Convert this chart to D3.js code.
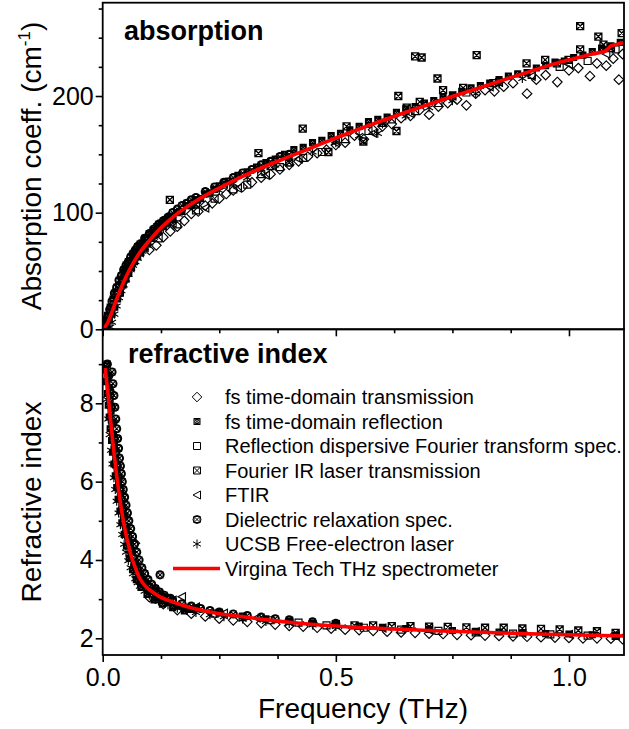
<!DOCTYPE html>
<html><head><meta charset="utf-8">
<script src="https://cdn.jsdelivr.net/npm/d3@7"></script>
<style>body{margin:0;background:#fff}svg{display:block}text{font-family:"Liberation Sans",Arial,sans-serif;fill:#000}</style>
</head><body><svg id="c" width="629" height="729"></svg>
<script>
// ---------- DATA ----------
const seriesNames = ["fs time-domain transmission","fs time-domain reflection","Reflection dispersive Fourier transform spec.","Fourier IR laser transmission","FTIR","Dielectric relaxation spec.","UCSB Free-electron laser"];
const lineName = "Virgina Tech THz spectrometer";
const xTicks = [0, 0.5, 1.0];
const alphaTicks = [0, 100, 200];
const nTicks = [2, 4, 6, 8];

// Virginia Tech curve
const vtFreqA = [0,0.01,0.02,0.03,0.04,0.05,0.06,0.08,0.1,0.125,0.15,0.2,0.25,0.3,0.35,0.4,0.45,0.5,0.6,0.7,0.8,0.9,1.0,1.05,1.08,1.09,1.1,1.118];
const vtAlpha  = [0,5,15,26,36,45,53,66,76,87,96,110,121,131,140,148,156,164,179,193,206,219,231,236,239,243,244,246];
const vtFreqN = [0.005,0.01,0.015,0.02,0.025,0.03,0.035,0.04,0.045,0.05,0.055,0.06,0.07,0.08,0.09,0.1,0.123,0.15,0.18,0.244,0.3,0.352,0.4,0.466,0.6,0.7,0.8,0.9,1.0,1.118];
const vtN     = [8.9,8.4,7.8,7.2,6.65,6.15,5.7,5.3,4.95,4.65,4.4,4.15,3.8,3.52,3.35,3.24,3.06,2.93,2.81,2.64,2.55,2.47,2.41,2.34,2.25,2.2,2.16,2.12,2.09,2.06];

// absorption data [freq, alpha]
const tdsTransAlpha = [[0.10,68],[0.115,72],[0.13,79],[0.145,84],[0.16,88],[0.175,93],[0.19,99],[0.205,101],[0.22,106],[0.235,108],[0.25,112],[0.265,116],[0.28,119],[0.30,122],[0.32,126],[0.34,130],[0.36,133],[0.38,137],[0.40,141],[0.42,144],[0.44,148],[0.46,151],[0.48,154],[0.50,158],[0.52,160],[0.54,166],[0.56,163],[0.58,171],[0.60,174],[0.62,176],[0.64,181],[0.66,183],[0.68,188],[0.70,184],[0.72,191],[0.74,194],[0.76,197],[0.78,192],[0.80,202],[0.82,205],[0.84,204],[0.86,208],[0.88,211],[0.91,202],[0.93,214],[0.95,218],[0.975,212],[1.00,222],[1.02,224],[1.045,217],[1.06,228],[1.08,226],[1.095,232],[1.107,214],[1.115,236]];
const tdsReflAlpha = [[0.004,6],[0.008,4],[0.01,12],[0.014,8],[0.016,19],[0.02,13],[0.022,26],[0.026,19],[0.028,32],[0.032,26],[0.034,38],[0.038,31],[0.04,43],[0.044,38],[0.046,49],[0.05,43],[0.052,54],[0.056,48],[0.058,59],[0.062,53],[0.065,63],[0.068,58],[0.071,67],[0.075,62],[0.078,71],[0.082,66],[0.085,74],[0.089,70],[0.092,78],[0.096,74],[0.1,82],[0.104,78],[0.108,85],[0.112,81],[0.116,88],[0.12,84],[0.125,91],[0.13,88],[0.135,94],[0.14,91],[0.145,97],[0.15,94],[0.16,100],[0.17,101],[0.18,106],[0.19,106],[0.2,111],[0.21,112],[0.22,116],[0.23,117],[0.24,120],[0.25,123],[0.27,127],[0.29,132],[0.31,135],[0.33,139],[0.35,143],[0.37,146],[0.39,150],[0.41,154],[0.43,156],[0.45,160],[0.47,162],[0.49,166],[0.51,168],[0.53,171],[0.55,174],[0.57,178],[0.59,180],[0.61,182],[0.63,186],[0.65,189],[0.67,191],[0.69,194],[0.71,196],[0.73,199],[0.75,201],[0.77,204],[0.79,207],[0.81,209],[0.83,211],[0.85,214],[0.87,217],[0.89,219],[0.91,220],[0.93,224],[0.95,226],[0.97,229],[0.99,230],[1.01,233],[1.03,235],[1.05,238],[1.07,241],[1.09,243],[1.11,246]];
const dispFtAlpha = [[0.12,78],[0.16,90],[0.2,102],[0.24,112],[0.28,120],[0.31,124],[0.34,133],[0.38,139],[0.43,147],[0.47,152],[0.52,163],[0.57,170],[0.62,180],[0.67,187],[0.72,194],[0.78,203],[0.85,212],[0.92,218],[0.98,225],[1.04,230],[1.1,240]];
const firAlpha = [[0.144,111],[0.2,107],[0.26,124],[0.334,151],[0.36,140],[0.40,143],[0.429,172],[0.484,152],[0.523,174],[0.559,161],[0.60,177],[0.63,170],[0.634,200],[0.652,190],[0.67,234],[0.684,233],[0.68,195],[0.718,215],[0.73,205],[0.773,207],[0.802,235],[0.838,211],[0.909,228],[0.949,231],[0.974,228],[0.999,231],[1.024,260],[1.024,240],[1.063,251],[1.074,244],[1.09,241],[1.113,254]];
const ftirAlpha = [[0.09,70],[0.15,91],[0.22,104],[0.29,121],[0.35,132],[0.42,146],[0.5,160],[0.58,168],[0.66,185],[0.75,200],[0.83,208],[0.92,217],[1.0,227],[1.08,236]];
const dielAlpha = [[0.005,3],[0.01,10],[0.015,17],[0.02,24],[0.025,31],[0.03,36],[0.035,42],[0.04,46],[0.045,51],[0.05,55],[0.055,58],[0.06,62],[0.065,65],[0.07,68],[0.075,71],[0.08,73],[0.09,78],[0.1,82],[0.11,86],[0.12,90],[0.13,93],[0.14,96],[0.15,100],[0.16,103],[0.17,106],[0.18,108],[0.19,111],[0.2,113],[0.22,118],[0.24,122],[0.26,126],[0.28,130],[0.3,134],[0.32,137],[0.34,141],[0.36,144],[0.38,148],[0.4,150]];
const ucsbAlpha = [[0.016,2],[0.02,6],[0.025,13],[0.03,20],[0.035,27],[0.04,33],[0.045,38],[0.05,43],[0.055,47],[0.06,51],[0.065,55],[0.07,58],[0.075,61],[0.08,64],[0.085,67],[0.09,70],[0.095,72],[0.1,74],[0.11,79],[0.12,83],[0.13,87],[0.14,91],[0.15,94],[0.17,100],[0.19,106],[0.21,111],[0.23,115],[0.25,119],[0.28,125],[0.31,130],[0.34,136],[0.37,141],[0.4,147],[0.45,152],[0.5,160],[0.55,166],[0.59,168],[0.6,176],[0.65,183],[0.7,190],[0.75,196],[0.8,202],[0.85,210],[0.9,215]];

// refractive index data [freq, n]
const tdsTransN = [[0.069,4.43],[0.1,3.05],[0.13,2.87],[0.16,2.72],[0.19,2.63],[0.22,2.56],[0.25,2.5],[0.28,2.46],[0.31,2.42],[0.34,2.39],[0.37,2.35],[0.4,2.32],[0.43,2.3],[0.46,2.27],[0.49,2.25],[0.52,2.22],[0.55,2.21],[0.58,2.19],[0.61,2.17],[0.64,2.15],[0.67,2.14],[0.7,2.12],[0.73,2.11],[0.76,2.09],[0.79,2.08],[0.82,2.07],[0.85,2.06],[0.88,2.05],[0.91,2.04],[0.94,2.03],[0.97,2.02],[1.0,2.01],[1.03,2.0],[1.06,2.0],[1.09,1.99],[1.115,1.98]];
const tdsReflN = [[0.009,9.0],[0.006,8.85],[0.012,8.7],[0.008,8.55],[0.014,8.4],[0.01,8.25],[0.016,8.1],[0.012,7.95],[0.018,7.8],[0.014,7.65],[0.02,7.5],[0.016,7.35],[0.023,7.2],[0.019,7.05],[0.025,6.9],[0.021,6.75],[0.028,6.6],[0.024,6.45],[0.031,6.3],[0.027,6.15],[0.034,6.0],[0.03,5.85],[0.038,5.7],[0.033,5.55],[0.041,5.4],[0.037,5.25],[0.045,5.1],[0.041,4.95],[0.05,4.8],[0.046,4.65],[0.056,4.5],[0.051,4.35],[0.062,4.2],[0.057,4.05],[0.07,3.9],[0.064,3.75],[0.08,3.6],[0.072,3.5],[0.09,3.4],[0.082,3.3],[0.104,3.2],[0.095,3.12],[0.12,3.05],[0.11,2.98],[0.14,2.92],[0.128,2.87],[0.16,2.82],[0.15,2.78],[0.19,2.74],[0.175,2.7],[0.2,2.78],[0.25,2.66],[0.3,2.57],[0.35,2.5],[0.4,2.44],[0.45,2.39],[0.5,2.35],[0.55,2.31],[0.6,2.28],[0.65,2.25],[0.7,2.23],[0.75,2.2],[0.8,2.18],[0.85,2.16],[0.9,2.14],[0.95,2.12],[1.0,2.11],[1.05,2.09],[1.1,2.07]];
const dispFtN = [[0.12,3.0],[0.18,2.78],[0.24,2.63],[0.3,2.54],[0.36,2.46],[0.42,2.4],[0.48,2.33],[0.56,2.27],[0.64,2.22],[0.72,2.19],[0.8,2.15],[0.88,2.12],[0.96,2.1],[1.04,2.07],[1.1,2.06]];
const firN = [[0.5,2.36],[0.54,2.33],[0.58,2.33],[0.62,2.31],[0.66,2.31],[0.7,2.3],[0.74,2.29],[0.78,2.28],[0.82,2.27],[0.86,2.27],[0.9,2.25],[0.94,2.24],[0.98,2.23],[1.02,2.2],[1.06,2.18],[1.1,2.14]];
const ftirN = [[0.08,3.55],[0.11,3.25],[0.15,2.97],[0.17,3.06],[0.2,2.8],[0.26,2.64],[0.33,2.52],[0.4,2.43],[0.5,2.34],[0.6,2.26],[0.7,2.21],[0.8,2.17],[0.9,2.13],[1.0,2.1],[1.1,2.07]];
const dielN = [[0.01,9.0],[0.013,8.7],[0.016,8.3],[0.019,7.9],[0.022,7.5],[0.025,7.1],[0.028,6.75],[0.031,6.4],[0.034,6.1],[0.037,5.8],[0.04,5.55],[0.043,5.3],[0.046,5.1],[0.05,4.85],[0.054,4.6],[0.058,4.4],[0.062,4.2],[0.066,4.05],[0.07,3.9],[0.075,3.75],[0.08,3.6],[0.085,3.5],[0.09,3.42],[0.1,3.3],[0.11,3.2],[0.12,3.12],[0.123,3.62],[0.13,3.05],[0.14,3.0],[0.15,2.96],[0.17,2.88],[0.19,2.82],[0.21,2.76],[0.23,2.71],[0.25,2.67],[0.28,2.62],[0.31,2.58],[0.34,2.54],[0.37,2.5],[0.4,2.47],[0.45,2.42],[0.5,2.38],
  [0.02,8.8],[0.022,8.5],[0.024,8.2],[0.026,7.9],[0.028,7.6],[0.03,7.35],[0.032,7.1],[0.034,6.85],[0.036,6.6],[0.038,6.4],[0.04,6.2],[0.042,6.0],[0.044,5.8],[0.047,5.6],[0.05,5.4],[0.053,5.2],[0.056,5.0],[0.06,4.8],[0.064,4.6],[0.068,4.4],[0.073,4.2],[0.078,4.0],[0.084,3.8],[0.09,3.65],[0.097,3.5],[0.105,3.38],[0.113,3.27],[0.122,3.18],[0.132,3.1],[0.145,3.02]];
const ucsbN = [[0.006,8.6],[0.009,8.1],[0.012,7.6],[0.015,7.2],[0.018,6.8],[0.021,6.45],[0.024,6.1],[0.027,5.8],[0.03,5.5],[0.034,5.2],[0.038,4.9],[0.042,4.65],[0.046,4.4],[0.05,4.2],[0.055,3.98],[0.06,3.8],[0.065,3.65],[0.07,3.52],[0.075,3.42],[0.08,3.33],[0.09,3.2],[0.1,3.1],[0.11,3.02],[0.12,2.95],[0.14,2.85],[0.16,2.77],[0.18,2.71],[0.2,2.66],[0.23,2.6],[0.26,2.55],[0.3,2.49],[0.35,2.43],[0.4,2.38],[0.45,2.34],[0.5,2.3]];

// ---------- DRAW ----------
const svg = d3.select("#c");
const L = 102.7, R = 624, T1 = 2.7, B1 = 329.3, B2 = 655;
const x = d3.scaleLinear().domain([0, 1.118]).range([L, R]);
const yA = d3.scaleLinear().domain([0, 280]).range([B1, T1]);
const yN = d3.scaleLinear().domain([1.574, 9.889]).range([B2, B1]);

const symbols = [
  "M0,-4.8L4.8,0L0,4.8L-4.8,0Z",
  "M-3,-3H3V3H-3Z M-3,-3L3,3M3,-3L-3,3 M2.2,0A2.2,2.2 0 1,1 -2.2,0A2.2,2.2 0 1,1 2.2,0",
  "M-3.5,-3.5H3.5V3.5H-3.5Z",
  "M-3.5,-3.5H3.5V3.5H-3.5Z M-3.5,-3.5L3.5,3.5M3.5,-3.5L-3.5,3.5",
  "M-4,0L3.5,-4L3.5,4Z",
  "M4,0A4,4 0 1,1 -4,0A4,4 0 1,1 4,0 M-3.3,-3.3L3.3,3.3M3.3,-3.3L-3.3,3.3 M-3,-3H3V3H-3Z",
  "M0,-4.5V4.5 M-4,-2.3L4,2.3 M-4,2.3L4,-2.3"
];
const alphaSets = [tdsTransAlpha, tdsReflAlpha, dispFtAlpha, firAlpha, ftirAlpha, dielAlpha, ucsbAlpha];
const nSets = [tdsTransN, tdsReflN, dispFtN, firN, ftirN, dielN, ucsbN];

const defs = svg.append("defs");
defs.append("clipPath").attr("id","clipA").append("rect").attr("x",L).attr("y",T1).attr("width",R-L).attr("height",B1-T1);
defs.append("clipPath").attr("id","clipN").append("rect").attr("x",L).attr("y",B1).attr("width",R-L).attr("height",B2-B1);

function drawPanel(sets, yS, clip, fx, fy) {
  const g = svg.append("g").attr("clip-path", `url(#${clip})`);
  sets.forEach((data, i) => {
    g.append("g").selectAll("path").data(data).join("path")
      .attr("d", symbols[i])
      .attr("transform", d => `translate(${x(d[0])},${yS(d[1])})`)
      .attr("fill", "none").attr("stroke", "#000").attr("stroke-width", i===3?1.3:1.15);
  });
  const line = d3.line().x((d,j) => x(fx[j])).y((d,j) => yS(fy[j])).curve(d3.curveMonotoneX);
  g.append("path").datum(fy).attr("d", line).attr("fill","none").attr("stroke","#ff0000").attr("stroke-width",3.6);
}
drawPanel(alphaSets, yA, "clipA", vtFreqA, vtAlpha);
drawPanel(nSets, yN, "clipN", vtFreqN, vtN);

// axes
function styleAxis(g){ g.select(".domain").remove(); g.selectAll("line").attr("stroke","#000").attr("stroke-width",1.6); g.selectAll("text").attr("font-size",25).attr("font-family",'"Liberation Sans",Arial,sans-serif').attr("fill","#000"); }
svg.append("g").attr("transform",`translate(${L},0)`).call(d3.axisLeft(yA).tickValues(alphaTicks).tickSize(7).tickPadding(2)).call(styleAxis);
svg.append("g").attr("transform",`translate(${L},0)`).call(d3.axisLeft(yA).tickValues(d3.range(25,280,25).filter(v=>v%100)).tickSize(4).tickFormat("")).call(styleAxis);
svg.append("g").attr("transform",`translate(${L},0)`).call(d3.axisLeft(yN).tickValues(nTicks).tickSize(7).tickPadding(2)).call(styleAxis);
svg.append("g").attr("transform",`translate(${L},0)`).call(d3.axisLeft(yN).tickValues([3,5,7,9]).tickSize(4).tickFormat("")).call(styleAxis);
svg.append("g").attr("transform",`translate(0,${B2})`).call(d3.axisBottom(x).tickValues(xTicks).tickSize(7).tickPadding(6).tickFormat(d3.format(".1f"))).call(styleAxis);
svg.append("g").attr("transform",`translate(0,${B2})`).call(d3.axisBottom(x).tickValues([0.125,0.25,0.375,0.625,0.75,0.875]).tickSize(4).tickFormat("")).call(styleAxis);
svg.append("g").attr("transform",`translate(0,${B1})`).call(d3.axisBottom(x).tickValues(xTicks).tickSize(7).tickFormat("")).call(styleAxis);
svg.append("g").attr("transform",`translate(0,${B1})`).call(d3.axisBottom(x).tickValues([0.125,0.25,0.375,0.625,0.75,0.875]).tickSize(4).tickFormat("")).call(styleAxis);

// frames
svg.append("rect").attr("x",L).attr("y",T1).attr("width",R-L).attr("height",B1-T1).attr("fill","none").attr("stroke","#000").attr("stroke-width",1.8);
svg.append("rect").attr("x",L).attr("y",B1).attr("width",R-L).attr("height",B2-B1).attr("fill","none").attr("stroke","#000").attr("stroke-width",1.8);

// titles
svg.append("text").attr("x",124).attr("y",40).attr("font-size",27).attr("font-weight","bold").text("absorption");
svg.append("text").attr("x",128).attr("y",363).attr("font-size",27).attr("font-weight","bold").text("refractive index");
svg.append("text").attr("x",363).attr("y",718).attr("text-anchor","middle").attr("font-size",28).text("Frequency (THz)");
const ta = svg.append("text").attr("transform","translate(41,166) rotate(-90)").attr("text-anchor","middle").attr("font-size",28);
ta.append("tspan").text("Absorption coeff. (cm");
ta.append("tspan").attr("font-size",17).attr("dy",-11).text("-1");
ta.append("tspan").attr("dy",11).text(")");
svg.append("text").attr("transform","translate(41,502) rotate(-90)").attr("text-anchor","middle").attr("font-size",28).text("Refractive index");

// legend
const lg = svg.append("g");
seriesNames.forEach((name, i) => {
  const yb = 404 + i*24.5;
  lg.append("path").attr("d", symbols[i]).attr("transform",`translate(197,${yb-7})`).attr("fill","none").attr("stroke","#000").attr("stroke-width",1);
  lg.append("text").attr("x",225).attr("y",yb).attr("font-size",20).text(name);
});
const yl = 404 + 7*24.5;
lg.append("line").attr("x1",173).attr("x2",220).attr("y1",yl-7).attr("y2",yl-7).attr("stroke","#ff0000").attr("stroke-width",3.6);
lg.append("text").attr("x",225).attr("y",yl).attr("font-size",20).text(lineName);
</script></body></html>
